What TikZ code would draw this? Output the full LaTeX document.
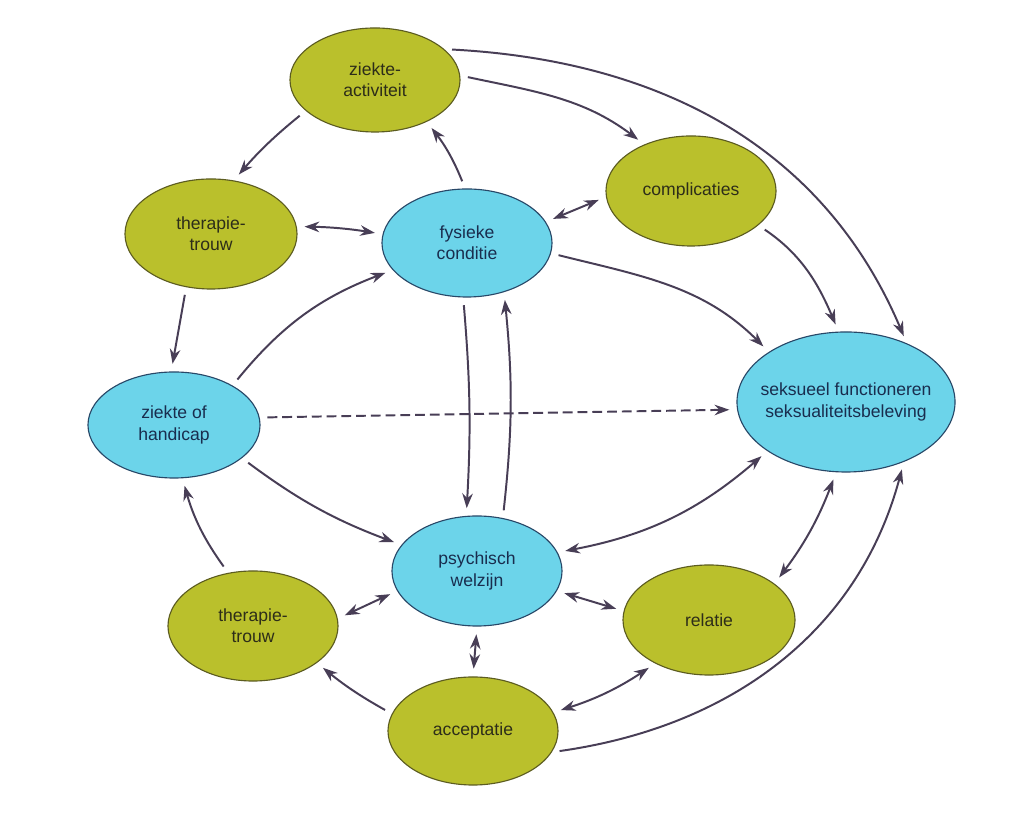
\documentclass[tikz,border=0pt]{standalone}
\usepackage{fontspec}
\setmainfont{Liberation Sans}
\usetikzlibrary{shapes,arrows.meta}

\definecolor{kleurgroen}{RGB}{186,192,44}
\definecolor{randgroen}{RGB}{92,92,32}
\definecolor{kleurblauw}{RGB}{108,212,234}
\definecolor{randblauw}{RGB}{40,72,104}
\definecolor{tekstgroen}{RGB}{45,45,25}
\definecolor{tekstblauw}{RGB}{25,45,78}
\definecolor{pijlkleur}{RGB}{72,62,86}

\tikzset{
  bol/.style={ellipse, draw, line width=0.8pt, inner sep=0pt, align=center,
    font=\fontsize{12.5}{15}\selectfont, minimum width=4.25cm, minimum height=2.75cm},
  groen/.style={bol, fill=kleurgroen, draw=randgroen, text=tekstgroen},
  blauw/.style={bol, fill=kleurblauw, draw=randblauw, text=tekstblauw},
  pijl/.style={draw=pijlkleur, line width=1.4pt, shorten >=5.5pt, shorten <=5.5pt,
    -{Stealth[length=10.5pt,width=7.5pt]}},
  dubbel/.style={pijl, {Stealth[length=10.5pt,width=7.5pt]}-{Stealth[length=10.5pt,width=7.5pt]}}
}

\begin{document}
\begin{tikzpicture}[x=0.025cm,y=0.025cm]
\fill [white] (0,0) rectangle (1024,819);
\useasboundingbox (0,0) rectangle (1024,819);
% ellipsen
\node[groen, minimum height=2.6cm] (act) at (375,739) {ziekte-\\activiteit};
\node[groen, minimum width=4.3cm] (trouwA) at (211,585) {therapie-\\trouw};
\node[blauw, minimum height=2.7cm] (fys) at (467,576) {fysieke\\conditie};
\node[groen] (compl) at (691,628) {complicaties};
\node[blauw, minimum width=4.3cm, minimum height=2.65cm] (ziekte) at (174,394) {ziekte of\\handicap};
\node[blauw, inner xsep=-6pt, minimum width=5.45cm, minimum height=3.5cm] (seks) at (846,417) {seksueel functioneren\\seksualiteitsbeleving};
\node[blauw] (psych) at (477,248) {psychisch\\welzijn};
\node[groen] (trouwB) at (253,193) {therapie-\\trouw};
\node[groen, minimum height=2.7cm] (accept) at (473,88) {acceptatie};
\node[groen, minimum width=4.3cm] (relatie) at (709,199) {relatie};
% bovenkant
\draw[pijl] (act.204) to[bend right=5] (trouwA.67);
\draw[pijl] (fys.92) to[bend right=8] (act.321);
\draw[dubbel] (trouwA.5.5) to[bend left=4] (fys.174);
\draw[dubbel] (fys.15) -- (compl.184.4);
\draw[pijl] (act.3) to[out=-12,in=143] (compl.135.5);
\draw[pijl] (act.24) to[out=-3,in=113] (seks.44);
\draw[pijl] (compl.333) to[out=-34,in=113] (seks.96.5);
\draw[pijl] (fys.353) to[out=-14,in=135] (seks.147.6);
% linkerkant
\draw[pijl] (trouwA.245.7) -- (ziekte.93);
\draw[pijl] (ziekte.34) to[bend left=15] (fys.200.6);
\draw[pijl, dash pattern=on 7pt off 3.5pt] (ziekte.5) -- (seks.184.5);
\draw[pijl] (ziekte.334) to[bend right=8] (psych.161);
% midden
\draw[pijl] (fys.266) to[bend left=4] (psych.101.5);
\draw[pijl] (psych.64) to[bend right=6] (fys.307);
% onderkant
\draw[dubbel] (psych.13.4) to[bend right=15] (seks.212.6);
\draw[dubbel] (seks.262.6) to[bend left=8] (relatie.29);
\draw[pijl] (accept.345) to[out=8,in=255] (seks.314.6);
\draw[pijl] (trouwB.115.4) to[bend left=10] (ziekte.279);
\draw[dubbel] (psych.194) -- (trouwB.5.6);
\draw[dubbel] (psych.346) -- (relatie.174.7);
\draw[dubbel] (psych.south) -- (accept.north);
\draw[pijl] (accept.168) to[bend left=5] (trouwB.330);
\draw[dubbel] (accept.13.6) to[bend right=8] (relatie.219);
\end{tikzpicture}
\end{document}
